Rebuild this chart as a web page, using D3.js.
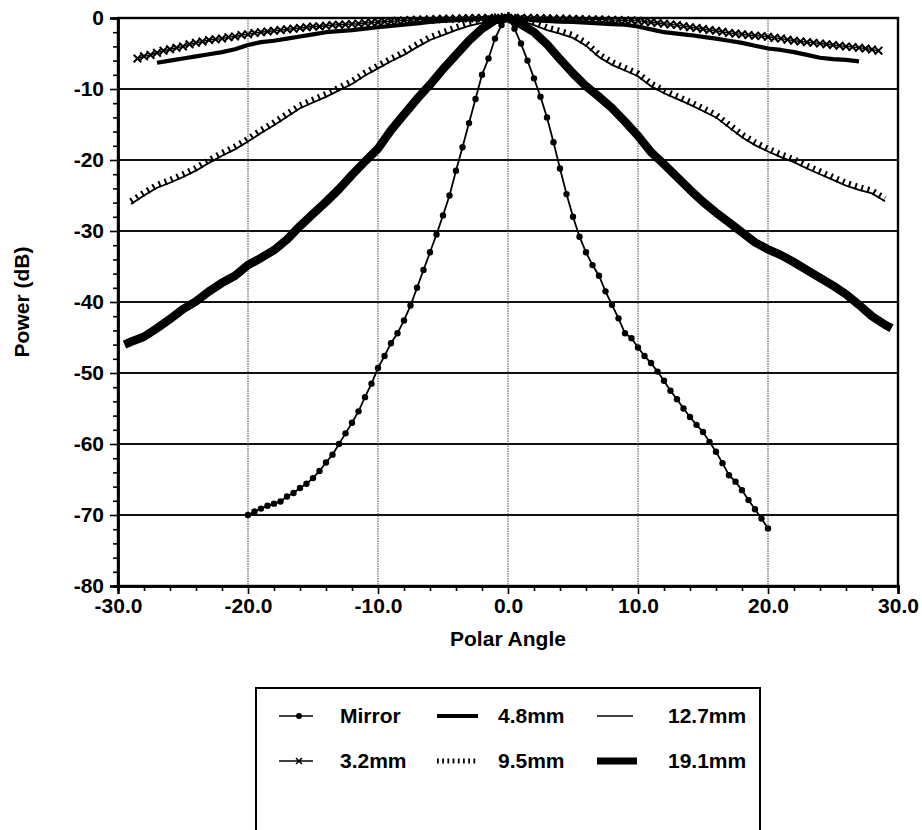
<!DOCTYPE html>
<html>
<head>
<meta charset="utf-8">
<script src="https://cdn.jsdelivr.net/npm/d3@7"></script>
<style>
  html, body { margin: 0; padding: 0; background: #fff; }
  svg { display: block; }
  text { font-family: "Liberation Sans", Arial, Helvetica, sans-serif; font-weight: bold; fill: #000; }
</style>
</head>
<body>
<svg id="chart" width="922" height="830"></svg>
<script>
// ---------------- DATA ----------------
const xTickValues = [-30, -20, -10, 0, 10, 20, 30];
const yTickValues = [0, -10, -20, -30, -40, -50, -60, -70, -80];

const mirrorAngles = [-20,-19.5,-19,-18.5,-18,-17.5,-17,-16.5,-16,-15.5,
  -15,-14.5,-14,-13.5,-13,-12.5,-12,-11.5,-11,-10.5,
  -10,-9.5,-9,-8.5,-8,-7.5,-7,-6.5,-6,-5.5,
  -5,-4.5,-4,-3.5,-3,-2.5,-2,-1.5,-1,-0.5,
  0,
  0.5,1,1.5,2,2.5,3,3.5,4,4.5,5,
  5.5,6,6.5,7,7.5,8,8.5,9,9.5,10,
  10.5,11,11.5,12,12.5,13,13.5,14,14.5,15,
  15.5,16,16.5,17,17.5,18,18.5,19,19.5,20];
const mirrorPower = [-70.0,-69.5,-69.1,-68.7,-68.4,-68.1,-67.4,-66.9,-66.2,-65.6,
  -64.8,-63.8,-62.6,-61.5,-60.0,-58.5,-57.0,-55.4,-53.4,-51.5,
  -49.3,-47.6,-45.8,-44.4,-42.6,-40.5,-38.0,-35.5,-33.0,-30.5,
  -27.8,-25.0,-21.5,-18.2,-14.8,-11.4,-8.0,-5.7,-2.9,-1.0,
  0,
  -1.5,-3.6,-6.0,-8.5,-11.1,-14.0,-17.5,-21.2,-24.8,-28.0,
  -30.8,-33.0,-34.8,-36.3,-38.5,-40.4,-42.3,-44.4,-45.1,-46.4,
  -47.6,-48.6,-49.8,-51.1,-52.5,-53.7,-55.0,-56.2,-57.3,-58.3,
  -59.7,-61.1,-62.7,-64.4,-65.3,-66.5,-67.9,-69.2,-70.5,-71.9];

const mm32Angles = [-28.5,-28,-27.5,-27,-26.5,-26,-25.5,-25,-24.5,-24,
  -23.5,-23,-22.5,-22,-21.5,-21,-20.5,-20,-19.5,-19,
  -18.5,-18,-17.5,-17,-16.5,-16,-15.5,-15,-14.5,-14,
  -13.5,-13,-12.5,-12,-11.5,-11,-10.5,-10,-9.5,-9,
  -8.5,-8,-7.5,-7,-6.5,-6,-5.5,-5,-4.5,-4,
  -3.5,-3,-2.5,-2,-1.5,-1,-0.5,
  0,
  0.5,1,1.5,2,2.5,3,3.5,4,4.5,5,
  5.5,6,6.5,7,7.5,8,8.5,9,9.5,10,
  10.5,11,11.5,12,12.5,13,13.5,14,14.5,15,
  15.5,16,16.5,17,17.5,18,18.5,19,19.5,20,
  20.5,21,21.5,22,22.5,23,23.5,24,24.5,25,
  25.5,26,26.5,27,27.5,28,28.5];
const mm32Power = [-5.7,-5.4,-5.2,-4.9,-4.6,-4.4,-4.2,-4.0,-3.7,-3.5,
  -3.3,-3.1,-3.0,-2.9,-2.7,-2.6,-2.4,-2.3,-2.1,-2.0,
  -1.9,-1.8,-1.7,-1.6,-1.5,-1.4,-1.3,-1.2,-1.2,-1.1,
  -1.0,-0.95,-0.9,-0.85,-0.8,-0.7,-0.65,-0.6,-0.5,-0.45,
  -0.4,-0.35,-0.3,-0.25,-0.2,-0.2,-0.15,-0.1,-0.1,-0.1,
  -0.05,-0.05,0,0,0,0,0,
  0,
  0,0,0,0,-0.05,-0.05,-0.1,-0.1,-0.1,-0.15,
  -0.15,-0.2,-0.2,-0.2,-0.25,-0.3,-0.3,-0.35,-0.35,-0.4,
  -0.5,-0.6,-0.7,-0.8,-0.9,-1.0,-1.15,-1.3,-1.4,-1.55,
  -1.7,-1.8,-1.95,-2.1,-2.2,-2.3,-2.4,-2.5,-2.55,-2.65,
  -2.8,-2.9,-3.05,-3.2,-3.3,-3.4,-3.5,-3.6,-3.7,-3.8,
  -3.9,-4.0,-4.1,-4.2,-4.3,-4.45,-4.6];

const mm48Angles = [-27,-26,-25,-24,-23,-22,-21,-20,-19,-18,
  -17,-16,-15,-14,-13,-12,-11,-10,-9,-8,
  -7,-6,-5,-4,-3,-2,-1,0,
  1,2,3,4,5,6,7,8,9,10,
  11,12,13,14,15,16,17,18,19,20,
  21,22,23,24,25,26,27];
const mm48Power = [-6.3,-6.0,-5.7,-5.4,-5.1,-4.8,-4.4,-3.8,-3.4,-3.2,
  -2.9,-2.6,-2.3,-2.0,-1.85,-1.7,-1.5,-1.3,-1.1,-0.95,
  -0.75,-0.55,-0.4,-0.3,-0.2,-0.1,0,0,
  -0.1,-0.3,-0.4,-0.5,-0.55,-0.65,-0.75,-0.85,-0.95,-1.2,
  -1.6,-2.0,-2.2,-2.4,-2.65,-2.9,-3.2,-3.5,-3.9,-4.3,
  -4.5,-4.8,-5.2,-5.6,-5.8,-5.9,-6.1];

const mm95Angles = [-29,-28,-27,-26,-25,-24,-23,-22,-21,-20,
  -19,-18,-17,-16,-15,-14,-13,-12,-11,-10,
  -9,-8,-7,-6,-5,-4,-3,-2,-1,0,
  1,2,3,4,5,6,7,8,9,10,
  11,12,13,14,15,16,17,18,19,20,
  21,22,23,24,25,26,27,28,29];
const mm95Power = [-26.2,-25.0,-23.9,-23.2,-22.4,-21.5,-20.4,-19.4,-18.5,-17.4,
  -16.2,-15.1,-13.9,-12.7,-11.9,-11.1,-10.2,-9.3,-8.1,-7.1,
  -6.1,-5.2,-4.1,-3.1,-2.4,-1.7,-1.1,-0.7,-0.2,0,
  -0.4,-1.0,-1.7,-2.2,-2.8,-3.9,-5.5,-6.6,-7.4,-8.2,
  -9.6,-10.6,-11.4,-12.2,-13.1,-14.0,-15.4,-16.8,-17.9,-18.8,
  -19.6,-20.3,-21.2,-22.0,-22.8,-23.6,-24.2,-24.7,-25.8];

const mm191Angles = [-29.5,-29,-28,-27,-26,-25,-24,-23,-22,-21,-20,
  -19,-18,-17,-16,-15,-14,-13,-12,-11,-10,
  -9,-8,-7,-6,-5,-4,-3,-2,-1,0,
  1,2,3,4,5,6,7,8,9,10,
  11,12,13,14,15,16,17,18,19,20,
  21,22,23,24,25,26,27,28,29,29.5];
const mm191Power = [-46.0,-45.6,-44.9,-43.7,-42.4,-41.0,-39.9,-38.5,-37.3,-36.3,-34.8,
  -33.8,-32.7,-31.2,-29.3,-27.6,-25.9,-24.1,-22.1,-20.2,-18.4,
  -15.8,-13.6,-11.4,-9.4,-7.2,-5.2,-3.2,-1.5,-0.3,0,
  -0.9,-2.0,-3.7,-5.8,-7.8,-9.6,-11.1,-12.7,-14.6,-16.6,
  -18.9,-20.6,-22.4,-24.2,-25.9,-27.4,-28.8,-30.2,-31.6,-32.6,
  -33.4,-34.4,-35.5,-36.6,-37.7,-38.9,-40.4,-42.0,-43.2,-43.7];

const legendRows = [
  ["Mirror", "4.8mm", "12.7mm"],
  ["3.2mm", "9.5mm", "19.1mm"]
];

// ---------------- LAYOUT ----------------
const svg = d3.select("#chart");
const plot = { left: 118, right: 898, top: 18, bottom: 586 };
const x = d3.scaleLinear().domain([-30, 30]).range([plot.left, plot.right]);
const y = d3.scaleLinear().domain([-80, 0]).range([plot.bottom, plot.top]);

const zip = (a, b) => a.map((v, i) => [v, b[i]]);
const line = d3.line().x(d => x(d[0])).y(d => y(d[1]));

// Grid
const grid = svg.append("g");
grid.selectAll("line.h").data(d3.range(-10, -80, -10)).join("line")
  .attr("x1", plot.left).attr("x2", plot.right)
  .attr("y1", d => y(d)).attr("y2", d => y(d))
  .attr("stroke", "#111").attr("stroke-width", 1.8);
grid.selectAll("line.v").data([-20, -10, 0, 10, 20]).join("line")
  .attr("y1", plot.top).attr("y2", plot.bottom)
  .attr("x1", d => x(d)).attr("x2", d => x(d))
  .attr("stroke", "#444").attr("stroke-width", 1).attr("stroke-dasharray", "1.5,1");

// Series
const g = svg.append("g");

// 19.1mm - very thick
g.append("path").datum(zip(mm191Angles, mm191Power))
  .attr("d", line).attr("fill", "none").attr("stroke", "#000")
  .attr("stroke-width", 8.5).attr("stroke-linejoin", "round");

// 9.5mm - line with comb teeth
const d95 = zip(mm95Angles, mm95Power);
g.append("path").datum(d95).attr("d", line).attr("fill", "none")
  .attr("stroke", "#000").attr("stroke-width", 1.8);
g.append("path").datum(d95).attr("d", line).attr("fill", "none")
  .attr("stroke", "#000").attr("stroke-width", 6.5).attr("stroke-dasharray", "2,4.5")
  .attr("transform", "translate(0,-2.6)");

// 4.8mm - thick solid
g.append("path").datum(zip(mm48Angles, mm48Power))
  .attr("d", line).attr("fill", "none").attr("stroke", "#000")
  .attr("stroke-width", 4.2).attr("stroke-linejoin", "round");

// 3.2mm - thin line with x markers
const d32 = zip(mm32Angles, mm32Power);
g.append("path").datum(d32).attr("d", line).attr("fill", "none")
  .attr("stroke", "#000").attr("stroke-width", 1.4);
const xm = 3.8;
g.selectAll("path.x32").data(d32).join("path")
  .attr("d", d => {
    const px = x(d[0]), py = y(d[1]);
    return `M${px - xm},${py - xm}L${px + xm},${py + xm}M${px - xm},${py + xm}L${px + xm},${py - xm}`;
  })
  .attr("stroke", "#000").attr("stroke-width", 2);

// Mirror - line with dots
const dm = zip(mirrorAngles, mirrorPower);
g.append("path").datum(dm).attr("d", line).attr("fill", "none")
  .attr("stroke", "#000").attr("stroke-width", 1.8);
g.selectAll("circle.m").data(dm).join("circle")
  .attr("cx", d => x(d[0])).attr("cy", d => y(d[1])).attr("r", 3.2).attr("fill", "#000");

// Frame
svg.append("rect").attr("x", plot.left).attr("y", plot.top)
  .attr("width", plot.right - plot.left).attr("height", plot.bottom - plot.top)
  .attr("fill", "none").attr("stroke", "#000").attr("stroke-width", 2.4);

// Axes
const fontSize = 21;
const xAxis = svg.append("g").attr("transform", `translate(0,${plot.bottom})`)
  .call(d3.axisBottom(x).tickValues(xTickValues).tickSize(8).tickPadding(4)
    .tickFormat(d => d.toFixed(1)));
const xMinor = svg.append("g").attr("transform", `translate(0,${plot.bottom})`)
  .call(d3.axisBottom(x).tickValues(d3.range(-28, 30, 2).filter(v => v % 10 !== 0))
    .tickSize(5).tickFormat(""));
const yAxis = svg.append("g").attr("transform", `translate(${plot.left},0)`)
  .call(d3.axisLeft(y).tickValues(yTickValues).tickSize(8).tickPadding(6)
    .tickFormat(d => String(d)));
const yMinor = svg.append("g").attr("transform", `translate(${plot.left},0)`)
  .call(d3.axisLeft(y).tickValues(d3.range(-78, 0, 2).filter(v => v % 10 !== 0))
    .tickSize(5).tickFormat(""));

[xAxis, xMinor, yAxis, yMinor].forEach(a => {
  a.select(".domain").attr("stroke", "#000").attr("stroke-width", 2.4);
  a.selectAll(".tick line").attr("stroke", "#000").attr("stroke-width", 1.6);
  a.selectAll("text").style("font-size", fontSize + "px")
    .style("font-family", '"Liberation Sans", Arial, sans-serif').style("font-weight", "bold")
    .attr("fill", "#000");
});

// Axis titles
svg.append("text").attr("x", (plot.left + plot.right) / 2).attr("y", 646)
  .attr("text-anchor", "middle").style("font-size", fontSize + "px").text("Polar Angle");
svg.append("text").attr("transform", `translate(29,${(plot.top + plot.bottom) / 2}) rotate(-90)`)
  .attr("text-anchor", "middle").style("font-size", fontSize + "px").text("Power (dB)");

// Legend
const leg = svg.append("g");
leg.append("rect").attr("x", 256).attr("y", 688).attr("width", 504).attr("height", 220)
  .attr("fill", "#fff").attr("stroke", "#000").attr("stroke-width", 2);

const colSample = [279, 437, 597];
const colText = [340, 498, 668];
const rowY = [716, 761];
const sampleW = [34, 41, 36];

legendRows.forEach((row, ri) => {
  row.forEach((name, ci) => {
    const x0 = colSample[ci], x1 = x0 + sampleW[ci], yy = rowY[ri];
    const mid = (x0 + x1) / 2;
    if (name === "Mirror") {
      leg.append("line").attr("x1", x0).attr("x2", x1).attr("y1", yy).attr("y2", yy)
        .attr("stroke", "#000").attr("stroke-width", 1.6);
      leg.append("circle").attr("cx", mid + 3).attr("cy", yy).attr("r", 3).attr("fill", "#000");
    } else if (name === "3.2mm") {
      leg.append("line").attr("x1", x0).attr("x2", x1).attr("y1", yy).attr("y2", yy)
        .attr("stroke", "#000").attr("stroke-width", 1.4);
      const cx = mid + 3;
      leg.append("path")
        .attr("d", `M${cx - 3},${yy - 3}L${cx + 3},${yy + 3}M${cx - 3},${yy + 3}L${cx + 3},${yy - 3}`)
        .attr("stroke", "#000").attr("stroke-width", 1.5);
    } else if (name === "4.8mm") {
      leg.append("line").attr("x1", x0).attr("x2", x1).attr("y1", yy).attr("y2", yy)
        .attr("stroke", "#000").attr("stroke-width", 4);
    } else if (name === "12.7mm") {
      leg.append("line").attr("x1", x0).attr("x2", x1).attr("y1", yy).attr("y2", yy)
        .attr("stroke", "#000").attr("stroke-width", 1.3);
    } else if (name === "9.5mm") {
      leg.append("line").attr("x1", x0).attr("x2", x1).attr("y1", yy).attr("y2", yy)
        .attr("stroke", "#000").attr("stroke-width", 5).attr("stroke-dasharray", "1.8,3.4");
    } else if (name === "19.1mm") {
      leg.append("line").attr("x1", x0).attr("x2", x1 + 4).attr("y1", yy).attr("y2", yy)
        .attr("stroke", "#000").attr("stroke-width", 7);
    }
    leg.append("text").attr("x", colText[ci]).attr("y", yy + 7)
      .style("font-size", fontSize + "px").text(name);
  });
});
</script>
</body>
</html>
